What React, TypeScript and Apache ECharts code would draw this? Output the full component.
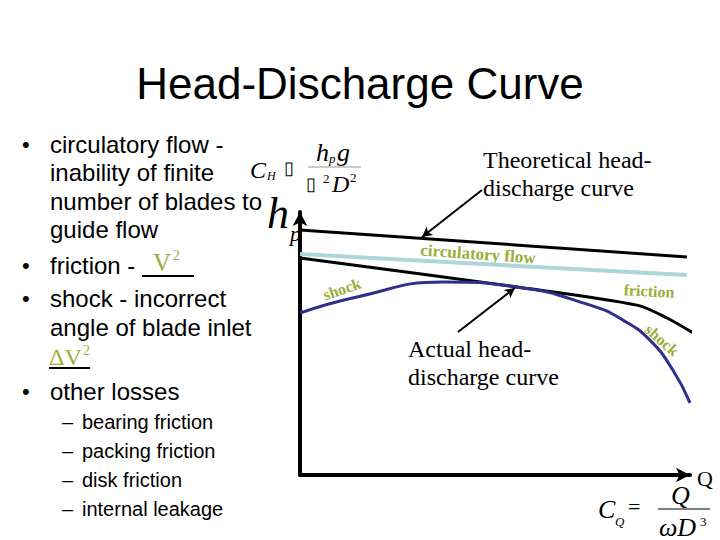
import React, { useEffect, useRef } from "react";
import * as echarts from "echarts";

const SANS = "Liberation Sans, Arial, sans-serif";
const SERIF = "Liberation Serif, Times New Roman, serif";
const OLIVE = "#9aae3a";

// Flow (Q) axis positions, 0..100, and head values, 0..100
const qTheoretical = [0, 99.2];
const hTheoretical = [93.2, 82.9];
const qCirculatory = [0, 99.2];
const hCirculatory = [84.0, 76.0];
const qFriction = [0, 55.6, 86.4, 94.1, 100.8];
const hFriction = [82.5, 71.5, 64.6, 59.7, 54.0];
const qActual = [0, 14.6, 36.7, 55.6, 74.4, 82.8, 89.7, 95.6, 100];
const hActual = [61.6, 67.7, 73.4, 71.5, 64.6, 58.9, 51.3, 39.9, 27.4];

const bulletLines = [
  { t: "circulatory flow -", y: 144, bullet: true },
  { t: "inability of finite", y: 172 },
  { t: "number of blades to", y: 201 },
  { t: "guide flow", y: 229 },
  { t: "friction - ", y: 265, bullet: true },
  { t: "shock - incorrect", y: 298, bullet: true },
  { t: "angle of blade inlet", y: 327 },
  { t: "other losses", y: 391, bullet: true },
];
const subLines = [
  { t: "bearing friction", y: 422 },
  { t: "packing friction", y: 451 },
  { t: "disk friction", y: 480 },
  { t: "internal leakage", y: 509 },
];

const pairs = (xs: number[], ys: number[]) => xs.map((x, i) => [x, ys[i]]);

export default function App() {
  const ref = useRef<HTMLDivElement>(null);
  useEffect(() => {
    if (!ref.current) return;
    const chart = echarts.init(ref.current, null, { renderer: "svg" });
    const txt = (text: string, x: number, y: number, font: string, extra: any = {}) => ({
      type: "text",
      x,
      y,
      style: { text, font, fill: "#000", verticalAlign: "middle", ...(extra.style || {}) },
      ...(extra.el || {}),
    });
    const graphics: any[] = [];
    bulletLines.forEach((l) => {
      if (l.bullet) graphics.push(txt("•", 22, l.y, `22px ${SANS}`));
      graphics.push(txt(l.t, 50, l.y, `24px ${SANS}`));
    });
    subLines.forEach((l) => {
      graphics.push(txt("–", 62, l.y, `20px ${SANS}`));
      graphics.push(txt(l.t, 82, l.y, `20px ${SANS}`));
    });
    // friction V^2 / underline
    graphics.push(txt("V", 153, 262, `25px ${SERIF}`, { style: { fill: OLIVE } }));
    graphics.push(txt("2", 173, 255, `14px ${SERIF}`, { style: { fill: OLIVE } }));
    graphics.push({ type: "line", shape: { x1: 142, y1: 276, x2: 194, y2: 276 }, style: { stroke: "#000", lineWidth: 2 } });
    // shock ΔV^2 / underline
    graphics.push(txt("ΔV", 49, 357, `24px ${SERIF}`, { style: { fill: OLIVE } }));
    graphics.push(txt("2", 83, 350, `14px ${SERIF}`, { style: { fill: OLIVE } }));
    graphics.push({ type: "line", shape: { x1: 49, y1: 368, x2: 90, y2: 368 }, style: { stroke: "#000", lineWidth: 2 } });
    // C_H formula
    graphics.push(txt("C", 250, 170, `italic 24px ${SERIF}`));
    graphics.push(txt("H", 267, 176, `italic 12px ${SERIF}`));
    graphics.push(txt("▯", 284, 168, `18px ${SANS}`));
    graphics.push(txt("h", 316, 152, `italic 26px ${SERIF}`));
    graphics.push(txt("p", 329, 158, `italic 13px ${SERIF}`));
    graphics.push(txt("g", 337, 152, `italic 26px ${SERIF}`));
    graphics.push({ type: "line", shape: { x1: 308, y1: 167, x2: 361, y2: 167 }, style: { stroke: "#999", lineWidth: 1 } });
    graphics.push(txt("▯", 306, 184, `18px ${SANS}`));
    graphics.push(txt("2", 323, 178, `13px ${SERIF}`));
    graphics.push(txt("D", 332, 184, `italic 24px ${SERIF}`));
    graphics.push(txt("2", 350, 177, `13px ${SERIF}`));
    // h_p axis label
    graphics.push(txt("h", 267, 213, `italic 44px ${SERIF}`));
    graphics.push(txt("p", 290, 233, `italic 22px ${SERIF}`));
    // Q axis label
    graphics.push(txt("Q", 697, 478, `22px ${SERIF}`));
    // C_Q formula
    graphics.push(txt("C", 598, 509, `italic 26px ${SERIF}`));
    graphics.push(txt("Q", 615, 521, `italic 13px ${SERIF}`));
    graphics.push(txt("=", 628, 506, `22px ${SERIF}`));
    graphics.push(txt("Q", 671, 495, `italic 26px ${SERIF}`));
    graphics.push({ type: "line", shape: { x1: 658, y1: 509, x2: 710, y2: 509 }, style: { stroke: "#000", lineWidth: 1.2 } });
    graphics.push(txt("ωD", 659, 527, `italic 26px ${SERIF}`));
    graphics.push(txt("3", 700, 521, `13px ${SERIF}`));
    // annotations
    graphics.push(txt("Theoretical head-", 483, 160, `24px ${SERIF}`));
    graphics.push(txt("discharge curve", 483, 188, `24px ${SERIF}`));
    graphics.push(txt("Actual head-", 408, 349, `24px ${SERIF}`));
    graphics.push(txt("discharge curve", 408, 377, `24px ${SERIF}`));
    // curve labels
    const lab = (t: string, x: number, y: number, rot: number, size = 16) => ({
      type: "text",
      x,
      y,
      rotation: rot,
      style: { text: t, font: `bold ${size}px ${SERIF}`, fill: OLIVE, align: "center", verticalAlign: "middle" },
    });
    graphics.push(lab("circulatory flow", 478, 254, -0.07, 17));
    graphics.push(lab("friction", 649, 291, -0.05));
    graphics.push(lab("shock", 342, 289, 0.33));
    graphics.push(lab("shock", 662, 340, -0.72));

    chart.setOption({
      animation: false,
      title: {
        text: "Head-Discharge Curve",
        left: "center",
        top: 56,
        textStyle: { fontSize: 44, fontWeight: "normal", fontFamily: SANS, color: "#000" },
      },
      grid: { left: 300, top: 212, right: 30, bottom: 65 },
      xAxis: {
        type: "value",
        min: 0,
        max: 100,
        axisLine: { show: true, symbol: ["none", "arrow"], symbolSize: [11, 14], lineStyle: { color: "#000", width: 4 } },
        axisTick: { show: false },
        axisLabel: { show: false },
        splitLine: { show: false },
      },
      yAxis: {
        type: "value",
        min: 0,
        max: 100,
        axisLine: { show: true, symbol: ["none", "arrow"], symbolSize: [11, 14], lineStyle: { color: "#000", width: 4 } },
        axisTick: { show: false },
        axisLabel: { show: false },
        splitLine: { show: false },
      },
      series: [
        {
          type: "line",
          data: pairs(qCirculatory, hCirculatory),
          showSymbol: false,
          clip: false,
          lineStyle: { color: "#acd6da", width: 4 },
        },
        {
          type: "line",
          data: pairs(qTheoretical, hTheoretical),
          showSymbol: false,
          clip: false,
          lineStyle: { color: "#000", width: 3 },
          markLine: {
            silent: true,
            symbol: ["none", "arrow"],
            symbolSize: [8, 10],
            label: { show: false },
            lineStyle: { color: "#000", width: 2, type: "solid" },
            data: [
              [{ x: 482, y: 190 }, { coord: [31.3, 90.5] }],
              [{ coord: [40.5, 54.4] }, { coord: [55.1, 71.1] }],
            ],
          },
        },
        {
          type: "line",
          data: pairs(qFriction, hFriction),
          showSymbol: false,
          clip: false,
          smooth: 0.3,
          lineStyle: { color: "#000", width: 3 },
        },
        {
          type: "line",
          data: pairs(qActual, hActual),
          showSymbol: false,
          clip: false,
          smooth: true,
          lineStyle: { color: "#2f2f8c", width: 3 },
        },
      ],
      graphic: graphics,
    });
    return () => chart.dispose();
  }, []);
  return <div ref={ref} style={{ position: "fixed", left: 0, top: 0, width: 720, height: 540, background: "#fff" }} />;
}
